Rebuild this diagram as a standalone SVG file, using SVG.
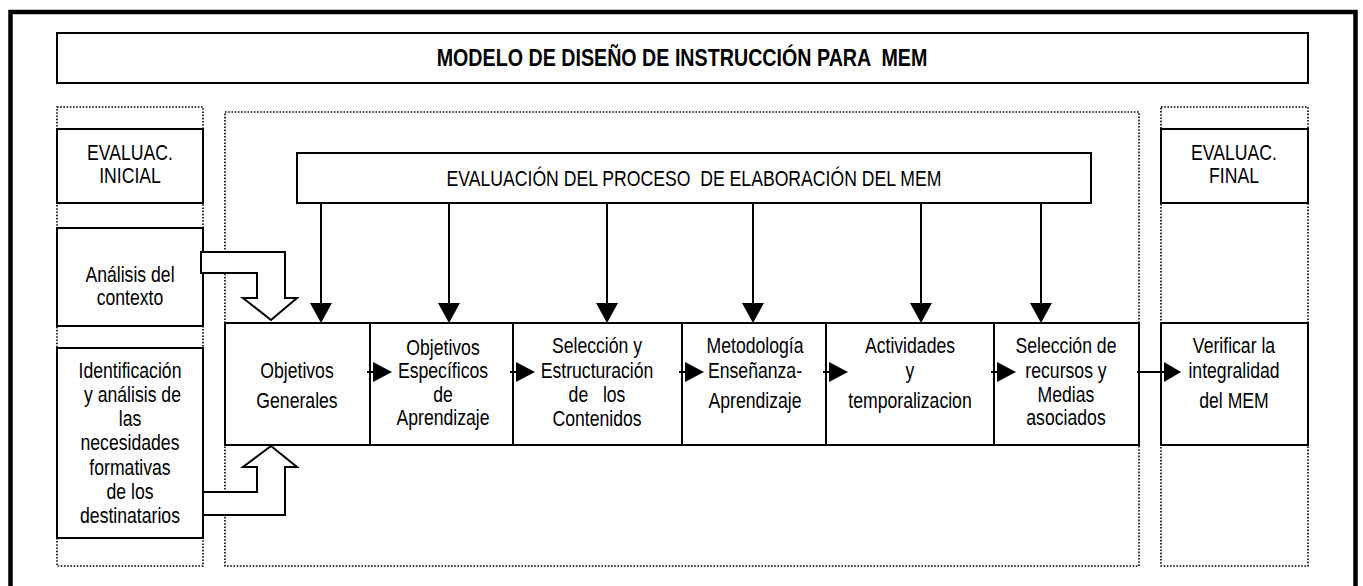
<svg xmlns="http://www.w3.org/2000/svg" width="1363" height="586" viewBox="0 0 1363 586">
<style>
text{font-family:"Liberation Sans",Arial,sans-serif;font-size:21.5px;fill:#000;text-anchor:middle;white-space:pre}
.title{font-weight:bold;font-size:24px}
.big{font-size:21.5px}
.box{fill:#fff;stroke:#000;stroke-width:2}
.dot{fill:none;stroke:#000;stroke-width:1.6;stroke-dasharray:1.6 1.6}
.ln{stroke:#000;stroke-width:2;fill:none}
.head{fill:#000;stroke:none}
.block{fill:#fff;stroke:#000;stroke-width:2;stroke-linejoin:miter}
</style>
<rect x="0" y="0" width="1363" height="586" fill="#fff"/>
<rect x="10.5" y="12" width="1345" height="700" fill="none" stroke="#000" stroke-width="4.5"/>
<g id="title">
<rect class="box" x="57" y="33" width="1251" height="50"/>
<g transform="translate(682 0) scale(0.82 1)"><text class="title" x="0" y="66" xml:space="preserve">MODELO DE DISEÑO DE INSTRUCCIÓN PARA  MEM</text></g>
</g>
<g id="columns">
<rect class="dot" x="57" y="107" width="146" height="459"/>
<rect class="dot" x="225" y="112" width="914" height="454"/>
<rect class="dot" x="1161" y="107" width="147" height="459"/>
</g>
<g id="evaluac-inicial">
<rect class="box" x="57" y="129" width="146" height="74"/>
<g transform="translate(130 0) scale(0.82 1)">
<text x="0" y="160">EVALUAC.</text>
<text x="0" y="183">INICIAL</text>
</g>
</g>
<g id="analisis-contexto">
<rect class="box" x="57" y="228" width="146" height="98"/>
<g transform="translate(130 0) scale(0.82 1)">
<text x="0" y="282">Análisis del</text>
<text x="0" y="305">contexto</text>
</g>
</g>
<g id="identificacion">
<rect class="box" x="57" y="348" width="146" height="190"/>
<g transform="translate(130 0) scale(0.82 1)">
<text x="0" y="378">Identificación</text>
<text x="3" y="402">y análisis de</text>
<text x="0" y="426">las</text>
<text x="0" y="450">necesidades</text>
<text x="0" y="475">formativas</text>
<text x="0" y="499">de los</text>
<text x="0" y="523">destinatarios</text>
</g>
</g>
<g id="evaluacion-proceso">
<rect class="box" x="297" y="153" width="794" height="50"/>
<g transform="translate(694 0) scale(0.82 1)"><text class="big" x="0" y="186" xml:space="preserve">EVALUACIÓN DEL PROCESO  DE ELABORACIÓN DEL MEM</text></g>
</g>
<g id="objetivos-generales">
<rect class="box" x="225" y="323" width="145" height="122"/>
<g transform="translate(297 0) scale(0.82 1)">
<text x="0" y="378">Objetivos</text>
<text x="0" y="408">Generales</text>
</g>
</g>
<g id="objetivos-especificos">
<rect class="box" x="370" y="323" width="143" height="122"/>
<g transform="translate(443 0) scale(0.82 1)">
<text x="0" y="355">Objetivos</text>
<text x="0" y="378">Específicos</text>
<text x="0" y="402">de</text>
<text x="0" y="425">Aprendizaje</text>
</g>
</g>
<g id="seleccion-contenidos">
<rect class="box" x="513" y="323" width="169" height="122"/>
<g transform="translate(597 0) scale(0.82 1)">
<text x="0" y="353">Selección y</text>
<text x="0" y="378">Estructuración</text>
<text x="0" y="402" xml:space="preserve">de   los</text>
<text x="0" y="426">Contenidos</text>
</g>
</g>
<g id="metodologia">
<rect class="box" x="682" y="323" width="144" height="122"/>
<g transform="translate(755 0) scale(0.82 1)">
<text x="0" y="353">Metodología</text>
<text x="0" y="378">Enseñanza-</text>
<text x="0" y="408">Aprendizaje</text>
</g>
</g>
<g id="actividades">
<rect class="box" x="826" y="323" width="168" height="122"/>
<g transform="translate(910 0) scale(0.82 1)">
<text x="0" y="353">Actividades</text>
<text x="0" y="378">y</text>
<text x="0" y="408">temporalizacion</text>
</g>
</g>
<g id="seleccion-recursos">
<rect class="box" x="994" y="323" width="145" height="122"/>
<g transform="translate(1066 0) scale(0.82 1)">
<text x="0" y="353">Selección de</text>
<text x="0" y="378">recursos y</text>
<text x="0" y="402">Medias</text>
<text x="0" y="425">asociados</text>
</g>
</g>
<g id="evaluac-final">
<rect class="box" x="1161" y="129" width="147" height="74"/>
<g transform="translate(1234 0) scale(0.82 1)">
<text x="0" y="160">EVALUAC.</text>
<text x="0" y="183">FINAL</text>
</g>
</g>
<g id="verificar">
<rect class="box" x="1161" y="323" width="147" height="122"/>
<g transform="translate(1234 0) scale(0.82 1)">
<text x="0" y="353">Verificar la</text>
<text x="0" y="378">integralidad</text>
<text x="0" y="408">del MEM</text>
</g>
</g>
<g id="connectors">
<polygon class="block" points="201,252 285,252 285,298 297,298 271,320 243,298 257,298 257,273 201,273"/>
<polygon class="block" points="203,515 285,515 285,467 297,467 271,446 243,467 257,467 257,492 203,492"/>
<line class="ln" x1="321" y1="203" x2="321" y2="305"/>
<polygon class="head" points="310,303 332,303 321,323"/>
<line class="ln" x1="449" y1="203" x2="449" y2="305"/>
<polygon class="head" points="438,303 460,303 449,323"/>
<line class="ln" x1="607" y1="203" x2="607" y2="305"/>
<polygon class="head" points="596,303 618,303 607,323"/>
<line class="ln" x1="753" y1="203" x2="753" y2="305"/>
<polygon class="head" points="742,303 764,303 753,323"/>
<line class="ln" x1="921" y1="203" x2="921" y2="305"/>
<polygon class="head" points="910,303 932,303 921,323"/>
<line class="ln" x1="1041" y1="203" x2="1041" y2="305"/>
<polygon class="head" points="1030,303 1052,303 1041,323"/>
<line class="ln" x1="367" y1="372" x2="375" y2="372"/>
<polygon class="head" points="373,362 392,372 373,382"/>
<line class="ln" x1="510" y1="372" x2="518" y2="372"/>
<polygon class="head" points="516,362 535,372 516,382"/>
<line class="ln" x1="679" y1="372" x2="687" y2="372"/>
<polygon class="head" points="685,362 704,372 685,382"/>
<line class="ln" x1="823" y1="372" x2="831" y2="372"/>
<polygon class="head" points="829,362 848,372 829,382"/>
<line class="ln" x1="991" y1="372" x2="999" y2="372"/>
<polygon class="head" points="997,362 1016,372 997,382"/>
<line class="ln" x1="1137" y1="372" x2="1166" y2="372"/>
<polygon class="head" points="1164,362 1181,372 1164,382"/>
</g>
</svg>
